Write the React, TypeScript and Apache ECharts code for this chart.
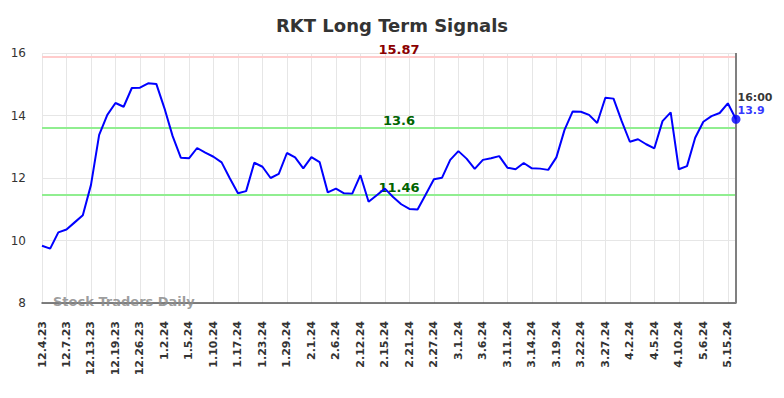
import React, { useEffect, useRef } from "react";
import * as echarts from "echarts";

const dates: string[] = [
  "12.4.23", "12.5.23", "12.6.23",
  "12.7.23", "12.8.23", "12.11.23",
  "12.13.23", "12.14.23", "12.15.23",
  "12.19.23", "12.20.23", "12.21.23",
  "12.26.23", "12.27.23", "12.28.23",
  "1.2.24", "1.3.24", "1.4.24",
  "1.5.24", "1.8.24", "1.9.24",
  "1.10.24", "1.11.24", "1.12.24",
  "1.17.24", "1.18.24", "1.19.24",
  "1.23.24", "1.24.24", "1.25.24",
  "1.29.24", "1.30.24", "1.31.24",
  "2.1.24", "2.2.24", "2.5.24",
  "2.6.24", "2.7.24", "2.8.24",
  "2.12.24", "2.13.24", "2.14.24",
  "2.15.24", "2.16.24", "2.20.24",
  "2.21.24", "2.22.24", "2.23.24",
  "2.27.24", "2.28.24", "2.29.24",
  "3.1.24", "3.4.24", "3.5.24",
  "3.6.24", "3.7.24", "3.8.24",
  "3.11.24", "3.12.24", "3.13.24",
  "3.14.24", "3.15.24", "3.18.24",
  "3.19.24", "3.20.24", "3.21.24",
  "3.22.24", "3.25.24", "3.26.24",
  "3.27.24", "3.28.24", "4.1.24",
  "4.2.24", "4.3.24", "4.4.24",
  "4.5.24", "4.8.24", "4.9.24",
  "4.10.24", "4.11.24", "4.12.24",
  "5.6.24", "5.7.24", "5.8.24",
  "5.15.24", "16:00",
];

const prices: number[] = [
  9.83, 9.74, 10.26, 10.35, 10.58, 10.81, 11.78, 13.38, 14.02, 14.40,
  14.28, 14.88, 14.89, 15.03, 15.01, 14.23, 13.34, 12.65, 12.63, 12.96,
  12.81, 12.68, 12.50, 11.99, 11.51, 11.58, 12.49, 12.36, 12.00, 12.13,
  12.80, 12.66, 12.31, 12.67, 12.51, 11.54, 11.66, 11.51, 11.50, 12.09,
  11.24, 11.45, 11.66, 11.39, 11.16, 11.01, 10.99, 11.47, 11.96, 12.01,
  12.58, 12.86, 12.62, 12.29, 12.58, 12.63, 12.70, 12.33, 12.28, 12.48,
  12.31, 12.30, 12.26, 12.66, 13.54, 14.13, 14.12, 14.02, 13.76, 14.57,
  14.54, 13.82, 13.16, 13.24, 13.08, 12.95, 13.82, 14.10, 12.28, 12.38,
  13.29, 13.80, 13.98, 14.08, 14.39, 13.88,
];

const resistanceLevel = 15.87;
const upperSignal = 13.6;
const lowerSignal = 11.46;
const lastTimeLabel = "16:00";
const lastPriceLabel = "13.9";

const FONT = "DejaVu Sans";

function levelLabel(value: number, color: string) {
  return {
    show: true,
    position: "middle",
    formatter: String(value),
    color,
    fontFamily: FONT,
    fontSize: 13,
    fontWeight: "bold",
    distance: 1,
    padding: [0, 0, 0, 20],
  };
}

export default function App() {
  const ref = useRef<HTMLDivElement>(null);

  useEffect(() => {
    const chart = echarts.init(ref.current!, null, { renderer: "svg" });
    const lastIdx = prices.length - 1;
    const option: any = {
      animation: false,
      backgroundColor: "#ffffff",
      textStyle: { fontFamily: FONT },
      title: {
        text: "RKT Long Term Signals",
        left: "center",
        top: 11,
        textStyle: { fontFamily: FONT, fontSize: 18, fontWeight: "bold", color: "#333333" },
      },
      grid: { left: 42, right: 48, top: 53, bottom: 95 },
      xAxis: {
        type: "category",
        data: dates,
        boundaryGap: false,
        axisLine: { show: true, lineStyle: { color: "#555555", width: 1.5 } },
        axisTick: { show: false },
        axisLabel: {
          interval: 2,
          rotate: 90,
          margin: 18,
          color: "#333333",
          fontFamily: FONT,
          fontSize: 11,
          fontWeight: "bold",
        },
        splitLine: { show: true, interval: 2, lineStyle: { color: "#e6e6e6", width: 1 } },
      },
      yAxis: {
        type: "value",
        min: 8,
        max: 16,
        interval: 2,
        axisLine: { show: false },
        axisTick: { show: false },
        axisLabel: { color: "#333333", fontFamily: FONT, fontSize: 12, margin: 16 },
        splitLine: { show: true, lineStyle: { color: "#e6e6e6", width: 1 } },
      },
      graphic: [
        {
          type: "text",
          left: 53,
          top: 295,
          z: 100,
          style: {
            text: "Stock Traders Daily",
            fill: "rgba(140,140,140,0.85)",
            font: `bold 13px "${FONT}"`,
          },
        },
      ],
      series: [
        {
          type: "line",
          data: prices,
          showSymbol: false,
          symbol: "none",
          lineStyle: { color: "#0000ff", width: 2 },
          z: 5,
          markLine: {
            silent: true,
            symbol: ["none", "none"],
            data: [
              {
                yAxis: resistanceLevel,
                lineStyle: { color: "#ffcccc", width: 2, type: "solid" },
                label: levelLabel(resistanceLevel, "#8b0000"),
              },
              {
                yAxis: upperSignal,
                lineStyle: { color: "#90ee90", width: 2, type: "solid" },
                label: levelLabel(upperSignal, "#006400"),
              },
              {
                yAxis: lowerSignal,
                lineStyle: { color: "#90ee90", width: 2, type: "solid" },
                label: levelLabel(lowerSignal, "#006400"),
              },
              {
                xAxis: lastIdx,
                lineStyle: { color: "#808080", width: 2, type: "solid" },
                label: { show: false },
              },
            ],
          },
        },
        {
          type: "scatter",
          data: [[lastIdx, prices[lastIdx]]],
          symbol: "circle",
          symbolSize: 9,
          itemStyle: { color: "#0000ff" },
          z: 10,
          label: {
            show: true,
            position: [6, -24],
            align: "left",
            verticalAlign: "top",
            formatter: `{a|${lastTimeLabel}}\n{b|${lastPriceLabel}}`,
            rich: {
              a: { color: "#000000", fontFamily: FONT, fontSize: 11, fontWeight: "bold", lineHeight: 13 },
              b: { color: "#0000ff", fontFamily: FONT, fontSize: 11, fontWeight: "bold", lineHeight: 13 },
            },
          },
        },
      ],
    };
    chart.setOption(option);
    return () => chart.dispose();
  }, []);

  return (
    <div
      ref={ref}
      style={{ position: "fixed", left: 0, top: 0, width: 784, height: 398 }}
    />
  );
}
